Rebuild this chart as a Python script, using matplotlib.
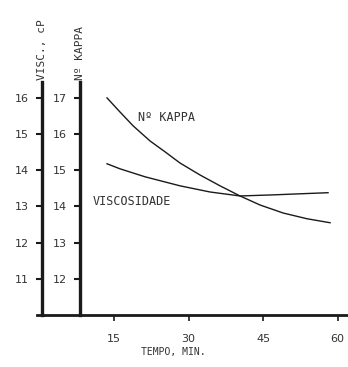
import matplotlib.pyplot as plt

# values
tempo_kappa = [13.59, 16.21, 18.83, 22.25, 25.27, 28.29, 32.31, 36.34, 40.37, 44.40, 49.02, 53.86, 58.49]
kappa = [17.00, 16.61, 16.23, 15.81, 15.51, 15.20, 14.87, 14.57, 14.29, 14.04, 13.82, 13.66, 13.55]

tempo_visc = [13.59, 16.21, 21.24, 28.29, 34.33, 40.37, 47.01, 52.45, 58.08]
visc = [14.18, 14.04, 13.82, 13.57, 13.40, 13.29, 13.32, 13.35, 13.38]

x_ticks = [15, 30, 45, 60]
visc_ticks = [11, 12, 13, 14, 15, 16]
kappa_ticks = [12, 13, 14, 15, 16, 17]

ink = '#1a1a1a'
txt = '#333333'
plt.rcParams['font.family'] = 'DejaVu Sans'
mono = 'DejaVu Sans Mono'

fig = plt.figure(figsize=(3.48, 3.67), dpi=100)
ax = fig.add_axes([42 / 348, 52 / 367, 306 / 348, 233 / 367])

# kappa is drawn against the visc scale, shifted down one unit
ax.plot(tempo_kappa, [k - 1 for k in kappa], color=ink, lw=1.0)
ax.plot(tempo_visc, visc, color=ink, lw=1.0)

ax.set_xlim(0.5, 62.1)
ax.set_ylim(10.0, 16.44)

for s in ['top', 'right']:
    ax.spines[s].set_visible(False)
ax.spines['left'].set_linewidth(2.4)
ax.spines['bottom'].set_linewidth(2.0)
ax.spines['left'].set_color(ink)
ax.spines['bottom'].set_color(ink)

ax.set_xticks(x_ticks)
ax.set_yticks(visc_ticks)
ax.tick_params(axis='x', length=4, width=1.2, color=ink, pad=10,
               labelsize=8, labelcolor=txt)
ax.tick_params(axis='y', length=4.5, width=1.5, color=ink, pad=5,
               labelsize=8, labelcolor=txt)

# second (kappa) axis
ax2 = ax.twinx()
ax2.set_ylim(11.0, 17.44)
for s in ['top', 'right', 'bottom']:
    ax2.spines[s].set_visible(False)
ax2.spines['left'].set_visible(True)
ax2.spines['left'].set_position(('data', 8.15))
ax2.spines['left'].set_linewidth(2.4)
ax2.spines['left'].set_color(ink)
ax2.yaxis.set_ticks_position('left')
ax2.yaxis.set_label_position('left')
ax2.set_yticks(kappa_ticks)
ax2.tick_params(axis='y', length=4.5, width=1.5, color=ink, pad=5,
                labelsize=8, labelcolor=txt)

# bottom line sticks out a little to the left
fig.add_artist(plt.Line2D([37 / 348, 43 / 348], [52 / 367, 52 / 367],
                          color=ink, lw=2.0))

ax.text(19.8, 15.45, 'Nº KAPPA', fontsize=8.5, family=mono, color=txt,
        ha='left', va='center')
ax.text(10.6, 13.15, 'VISCOSIDADE', fontsize=8.5, family=mono, color=txt,
        ha='left', va='center')

fig.text(42 / 348, 1 - 80 / 367, 'VISC., cP', rotation=90, fontsize=8,
         family=mono, color=txt, ha='center', va='bottom')
fig.text(80 / 348, 1 - 80 / 367, 'Nº KAPPA', rotation=90, fontsize=8,
         family=mono, color=txt, ha='center', va='bottom')
fig.text(173 / 348, 1 - 352 / 367, 'TEMPO, MIN.', fontsize=7,
         family=mono, color=txt, ha='center', va='center')

fig.savefig('out.png', dpi=100)
